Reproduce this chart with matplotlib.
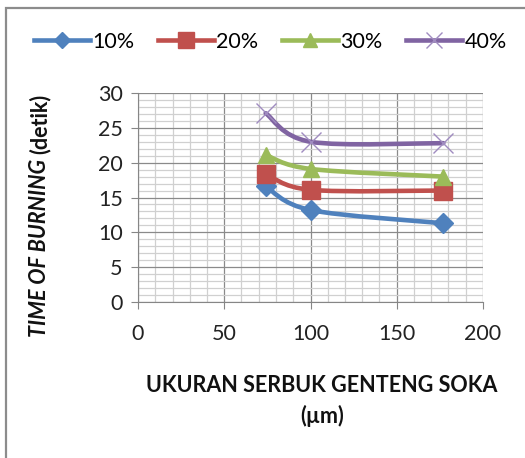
import matplotlib
matplotlib.use("Agg")
import matplotlib.pyplot as plt
import numpy as np
from matplotlib.path import Path
from matplotlib.patches import PathPatch, Rectangle
from matplotlib.lines import Line2D
from matplotlib.ticker import MultipleLocator

plt.rcParams['font.family'] = ['Lato', 'DejaVu Sans']

# data
ukuran = [74, 100, 177]
labels = ['10%', '20%', '30%', '40%']
t10 = [16.6, 13.2, 11.3]
t20 = [18.4, 16.1, 16.0]
t30 = [21.1, 19.1, 18.0]
t40 = [27.1, 23.0, 22.8]

colors = ['#4F81BD', '#C0504D', '#9BBB59', '#8064A2']
markers = ['D', 's', '^', 'x']
msizes = [10, 13, 12, 14]


def smooth_path(xs, ys):
    # excel-like smoothed line: bezier segments through the points
    p = np.column_stack([xs, ys]).astype(float)
    n = len(p)
    verts = [p[0]]
    codes = [Path.MOVETO]
    for i in range(n - 1):
        a = p[i - 1] if i > 0 else p[i]
        d = p[i + 2] if i + 2 < n else p[i + 1]
        c1 = p[i] + (p[i + 1] - a) / 6
        c2 = p[i + 1] - (d - p[i]) / 6
        verts += [c1, c2, p[i + 1]]
        codes += [Path.CURVE4] * 3
    return Path(verts, codes)


fig = plt.figure(figsize=(5.25, 4.58), dpi=100)
fig.patches.append(Rectangle((6 / 525, -0.1), 1.2, 1 - 8 / 458 + 0.1,
                             transform=fig.transFigure, fill=False,
                             ec='#8c8c8c', lw=1.6, zorder=0))

ax = fig.add_axes([138 / 525, 1 - 302 / 458, 345 / 525, 209 / 458])
ax.set_xlim(0, 200)
ax.set_ylim(0, 30)
ax.xaxis.set_major_locator(MultipleLocator(50))
ax.xaxis.set_minor_locator(MultipleLocator(10))
ax.yaxis.set_major_locator(MultipleLocator(5))
ax.yaxis.set_minor_locator(MultipleLocator(1))
ax.grid(which='minor', color='#d0d0d0', lw=0.9)
ax.grid(which='major', color='#8a8a8a', lw=0.9)
ax.set_axisbelow(True)
for s in ['top', 'right']:
    ax.spines[s].set_visible(False)
for s in ['left', 'bottom']:
    ax.spines[s].set_color('#868686')
ax.tick_params(which='minor', length=0)
ax.tick_params(which='major', length=5, color='#868686', labelsize=15.5,
               labelcolor='#222222')
ax.tick_params(axis='x', pad=11)
ax.tick_params(axis='y', pad=6)

handles = []
for ys, c, m, ms, lab in zip([t10, t20, t30, t40], colors, markers, msizes, labels):
    ax.add_patch(PathPatch(smooth_path(ukuran, ys), fill=False, ec=c, lw=3.3,
                           capstyle='round', joinstyle='round', zorder=3))
    if m == 'x':
        ax.plot(ukuran, ys, ls='none', marker=m, ms=ms, mew=1.0,
                color='#a08cc0', zorder=4)
        h = Line2D([], [], color=c, lw=3.3, marker=m, ms=ms, mew=1.0,
                   mec='#a08cc0')
    else:
        ax.plot(ukuran, ys, ls='none', marker=m, ms=ms, color=c, zorder=4)
        h = Line2D([], [], color=c, lw=3.3, marker=m, ms=ms)
    handles.append(h)

fig.legend(handles, labels, loc='center', bbox_to_anchor=(0.515, 1 - 42 / 458),
           ncol=4, frameon=False, fontsize=15.5, handlelength=2.6,
           handletextpad=0.1, columnspacing=1.1, markerscale=0.85)

fig.text(322 / 525, 1 - 386 / 458, 'UKURAN SERBUK GENTENG SOKA', ha='center',
         va='center', fontsize=15.5, fontweight='bold', color='#111111')
fig.text(322 / 525, 1 - 416 / 458, '(\u00b5m)', ha='center', va='center',
         fontsize=15.5, fontweight='bold', color='#111111')

t1 = fig.text(40 / 525, 1 - 337 / 458, 'TIME OF BURNING', rotation=90,
              ha='center', va='bottom', fontsize=15.5, fontweight='bold',
              style='italic', color='#111111')
renderer = fig.canvas.get_renderer()
bb = t1.get_window_extent(renderer)
fig.text(40 / 525, (bb.y1 + 5) / 458, '(detik)', rotation=90, ha='center',
         va='bottom', fontsize=15.5, fontweight='bold', color='#111111')

fig.savefig('out.png', dpi=100)
